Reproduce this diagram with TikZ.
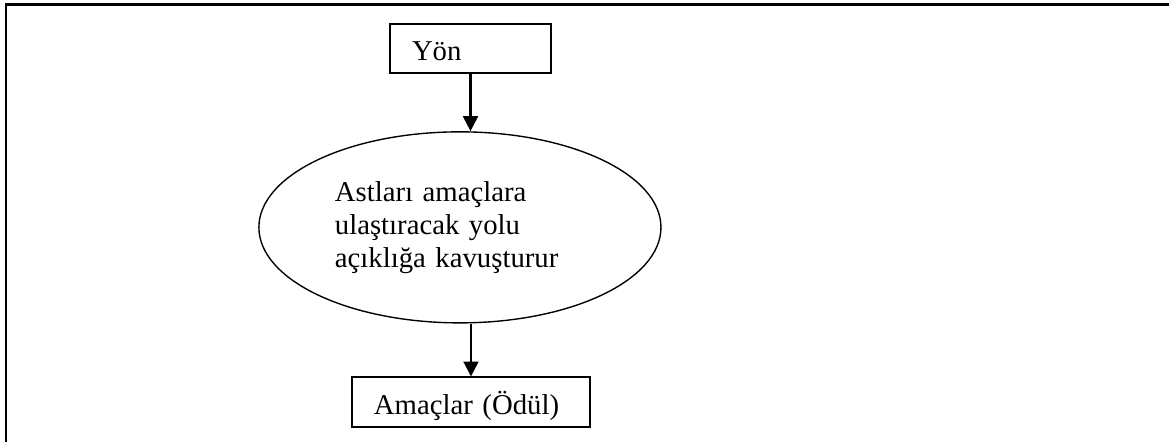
\documentclass[tikz,border=0pt]{standalone}
\usepackage{fontspec}
\setmainfont{Liberation Serif}
\usepackage{tikz}
\usetikzlibrary{arrows.meta,positioning,shapes.geometric}

\begin{document}
\begin{tikzpicture}[x=0.435pt,y=-0.435pt,>={Triangle[width=6.5pt,length=6.5pt]},line width=0.9pt,font=\fontsize{12.5}{14.35}\selectfont,
	kutu/.style={draw=black,line width=0.8pt,rectangle,align=left,inner xsep=9.5pt,inner ysep=0pt,minimum height=21.5pt,text height=11.3pt,text depth=0.5pt},
	yol/.style={draw=black,line width=0.6pt,ellipse,align=left,text width=108.75pt,minimum width=174.9pt,minimum height=83.1pt,inner sep=0pt}]
	\useasboundingbox (0,0) rectangle (1169,441);
	\fill[white] (0,0) rectangle (1169,441);
	\draw (6,4.5) rectangle (1190,460);

	\node[kutu,text width=50.9pt]	(yon)								at (470.5,48.5)	{Yön};
	\node[yol]						(yol)	[below=24.8pt of yon,xshift=-4.6pt]		{Astları amaçlara\\ulaştıracak yolu\\açıklığa kavuşturur};
	\node[kutu,text width=84.4pt]	(amac)	[below=23pt of yol,xshift=4.8pt]		{Amaçlar (Ödül)};

	\path[->]
		(yon)						edge	(yon |- yol.north)
		(amac.north |- yol.south)	edge	(amac)
	;
\end{tikzpicture}
\end{document}
